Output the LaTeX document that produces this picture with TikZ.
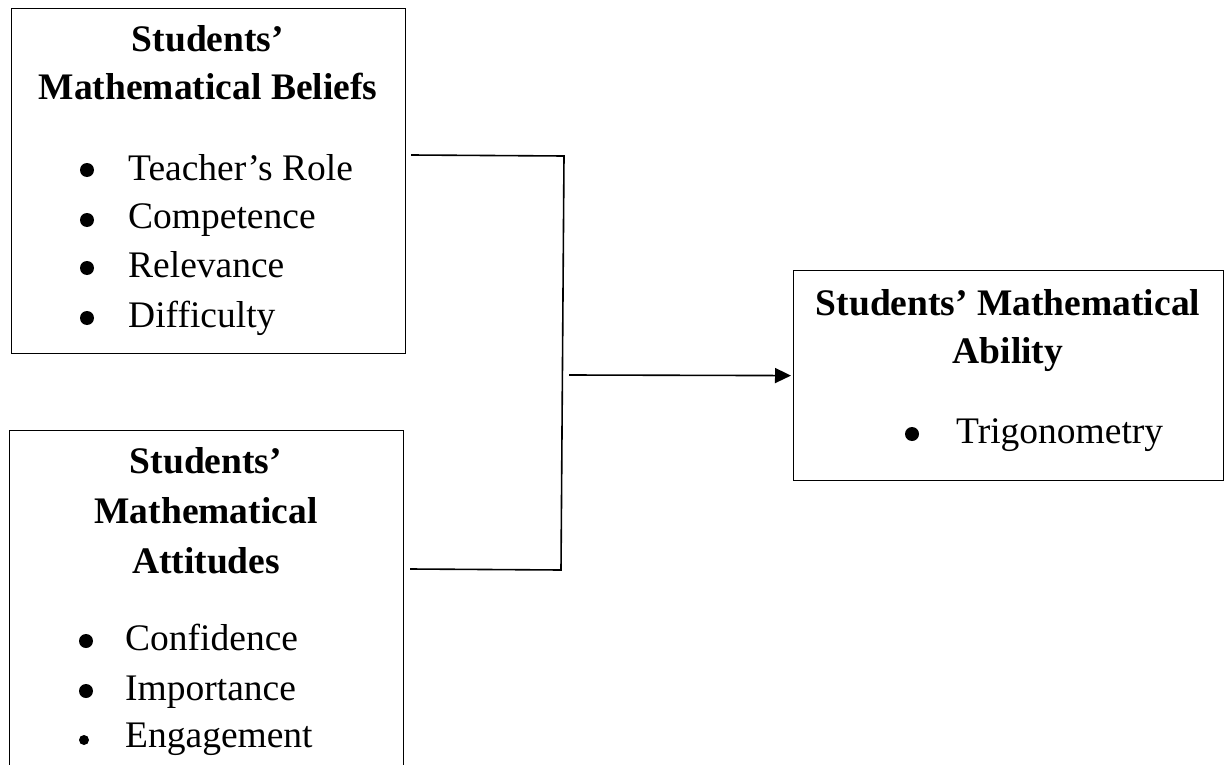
\documentclass[tikz,border=0pt]{standalone}
\usepackage{fontspec}
\setmainfont{Liberation Serif}
\usetikzlibrary{arrows.meta,calc}
\begin{document}
\begin{tikzpicture}[x=1bp,y=-1bp,
  box/.style={draw, line width=1.2bp, inner sep=0pt},
  txt/.style={inner sep=0pt, anchor=base west, font=\fontsize{37.5bp}{45bp}\selectfont},
  head/.style={inner sep=0pt, anchor=base, font=\fontsize{37.5bp}{45bp}\selectfont\bfseries},
  bul/.style={circle, fill=black, inner sep=0pt, minimum size=14bp},
  smallbul/.style={circle, fill=black, inner sep=0pt, minimum size=10bp},
  conn/.style={line width=1.6bp},
  arr/.style={conn, -{Triangle[length=16bp,width=15bp]}, shorten >=2bp}]
\useasboundingbox (0,0) rectangle (1227,765);
\begin{scope}
\clip (0,0) rectangle (1227,765);
% boxes
\node[box, anchor=north west, minimum width=394bp, minimum height=345bp] (b1) at (11,8) {};
\node[box, anchor=north west, minimum width=394bp, minimum height=380bp] (b2) at (9,430) {};
\node[box, anchor=north west, minimum width=430bp, minimum height=210bp] (b3) at (793,270) {};
% box 1 text
\node[head] (h11) at (208,52) {Students’};
\node[head] (h12) at (208,100) {Mathematical Beliefs};
\node[bul] (p11) at (87,170) {};
\node[txt] (i11) at (128,180) {Teacher’s Role};
\node[bul] (p12) at (87,220) {};
\node[txt] (i12) at (128,228) {Competence};
\node[bul] (p13) at (87,268) {};
\node[txt] (i13) at (128,277) {Relevance};
\node[bul] (p14) at (87,318) {};
\node[txt] (i14) at (128,327) {Difficulty};
% box 2 text
\node[head] (h21) at (206,473) {Students’};
\node[head] (h22) at (206,523) {Mathematical};
\node[head] (h23) at (206,573) {Attitudes};
\node[bul] (p21) at (86,641) {};
\node[txt] (i21) at (125,650) {Confidence};
\node[bul] (p22) at (86,691) {};
\node[txt] (i22) at (125,700) {Importance};
\node[smallbul] (p23) at (84,740) {};
\node[txt] (i23) at (125,747) {Engagement};
% box 3 text
\node[head] (h31) at (1008,315) {Students’ Mathematical};
\node[head] (h32) at (1008,363) {Ability};
\node[bul] (p31) at (912,434) {};
\node[txt] (i31) at (956,443) {Trigonometry};
% connectors
\coordinate (j1) at (564,156);
\coordinate (j2) at (561,570);
\coordinate (a0) at (569,375);
\draw[conn] ($(b1.north east)+(5,147)$) -- (j1) -- (j2) -- ($(b2.north east)+(6,139)$);
\draw[arr] (a0) -- (b3.west);
\end{scope}
\end{tikzpicture}
\end{document}
